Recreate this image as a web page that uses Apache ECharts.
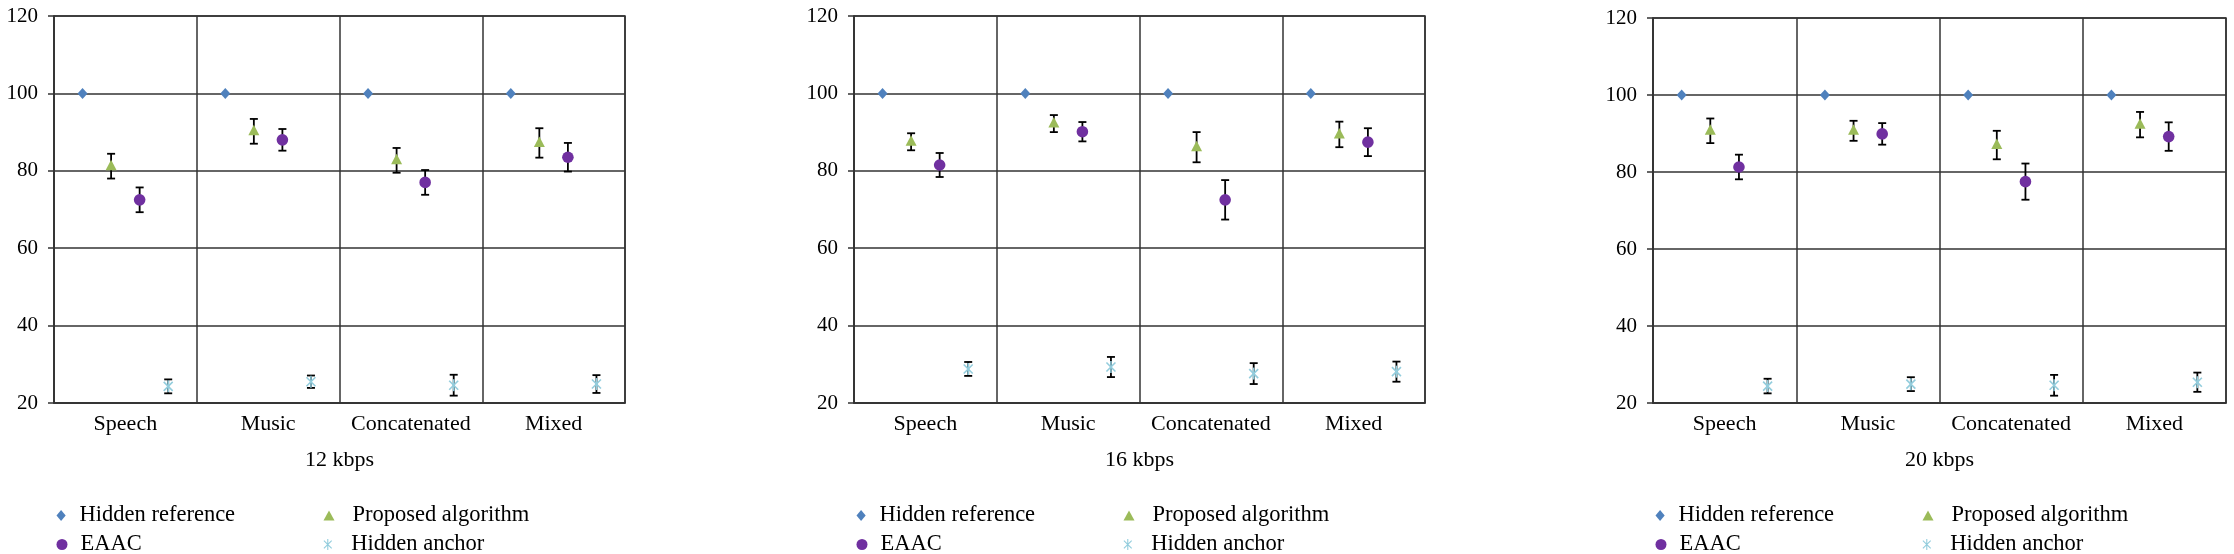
<!DOCTYPE html>
<html><head><meta charset="utf-8">
<script src="https://cdn.jsdelivr.net/npm/echarts@6/dist/echarts.min.js"></script>
<style>html,body{margin:0;padding:0;background:#fff}#c{width:2234px;height:554px}</style>
</head><body><div id="c"></div>
<script>
// ---- data ----
const categories = ['Speech', 'Music', 'Concatenated', 'Mixed'];
const panelTitles = ['12 kbps', '16 kbps', '20 kbps'];
const yMin = 20, yMax = 120, yStep = 20;
const seriesNames = ['Hidden reference', 'Proposed algorithm', 'EAAC', 'Hidden anchor'];

// 12 kbps
const ref12 = [100, 100, 100, 100];
const refErr12 = [0, 0, 0, 0];
const prop12 = [81.2, 90.2, 82.7, 87.2];
const propErr12 = [3.2, 3.2, 3.2, 3.8];
const eaac12 = [72.5, 88.0, 77.0, 83.5];
const eaacErr12 = [3.2, 2.8, 3.2, 3.7];
const anchor12 = [24.3, 25.5, 24.6, 24.9];
const anchorErr12 = [1.8, 1.6, 2.7, 2.3];

// 16 kbps
const ref16 = [100, 100, 100, 100];
const refErr16 = [0, 0, 0, 0];
const prop16 = [87.5, 92.2, 86.1, 89.4];
const propErr16 = [2.2, 2.2, 3.9, 3.3];
const eaac16 = [81.5, 90.1, 72.5, 87.4];
const eaacErr16 = [3.1, 2.5, 5.1, 3.6];
const anchor16 = [28.8, 29.3, 27.6, 28.1];
const anchorErr16 = [1.8, 2.6, 2.7, 2.6];

// 20 kbps
const ref20 = [100, 100, 100, 100];
const refErr20 = [0, 0, 0, 0];
const prop20 = [90.7, 90.7, 87.0, 92.3];
const propErr20 = [3.2, 2.6, 3.7, 3.3];
const eaac20 = [81.3, 89.9, 77.5, 89.2];
const eaacErr20 = [3.2, 2.8, 4.7, 3.7];
const anchor20 = [24.4, 24.9, 24.6, 25.4];
const anchorErr20 = [1.9, 1.8, 2.7, 2.5];

// ---- styling ----
const FONT = "'Liberation Serif', 'DejaVu Serif', serif";
const LINE = '#333333';
const colors = ['#4f81bd', '#9bbb59', '#7030a0', '#93cddd'];
const shapes = ['diamond', 'triangle', 'circle', 'asterisk'];
const legendIcons = {
  diamond: 'path://M5,0 L10,6 L5,12 L0,6 Z',
  triangle: 'path://M5,0 L10,9 L0,9 Z',
  circle: 'circle',
  asterisk: 'path://M9,0 L9,20 L11,20 L11,0 Z M16.36,17.78 L17.78,16.36 L3.64,2.22 L2.22,3.64 Z M3.64,17.78 L17.78,3.64 L16.36,2.22 L2.22,16.36 Z'
};
// legend slot per series: [column, row]
const legendSlots = [[0, 0], [1, 0], [0, 1], [1, 1]];

const panels = [
  { vals: [ref12, prop12, eaac12, anchor12], errs: [refErr12, propErr12, eaacErr12, anchorErr12] },
  { vals: [ref16, prop16, eaac16, anchor16], errs: [refErr16, propErr16, eaacErr16, anchorErr16] },
  { vals: [ref20, prop20, eaac20, anchor20], errs: [refErr20, propErr20, eaacErr20, anchorErr20] }
];
const grids = [
  { left: 54, top: 16, width: 571, height: 387 },
  { left: 854, top: 16, width: 571, height: 387 },
  { left: 1653, top: 18, width: 573, height: 385 }
];

function makeRender(slot, shape, color) {
  return function (params, api) {
    const ci = api.value(0), m = api.value(1), e = api.value(2);
    const band = api.size([1, 0])[0];
    const p = api.coord([ci, m]);
    const x = p[0] + (slot - 1.5) * band / 5;
    const y = p[1];
    const children = [];
    if (e > 0) {
      const yt = api.coord([ci, m + e])[1];
      const yb = api.coord([ci, m - e])[1];
      const ls = { stroke: '#000', lineWidth: 1.8 };
      children.push({ type: 'line', shape: { x1: x, y1: yt, x2: x, y2: yb }, style: ls });
      children.push({ type: 'line', shape: { x1: x - 4, y1: yt, x2: x + 4, y2: yt }, style: ls });
      children.push({ type: 'line', shape: { x1: x - 4, y1: yb, x2: x + 4, y2: yb }, style: ls });
    }
    if (shape === 'diamond') {
      children.push({ type: 'polygon', shape: { points: [[x, y - 5.5], [x + 5, y], [x, y + 5.5], [x - 5, y]] }, style: { fill: color } });
    } else if (shape === 'triangle') {
      children.push({ type: 'polygon', shape: { points: [[x, y - 6.5], [x + 5.5, y + 4], [x - 5.5, y + 4]] }, style: { fill: color } });
    } else if (shape === 'circle') {
      children.push({ type: 'circle', shape: { cx: x, cy: y, r: 5.8 }, style: { fill: color } });
    } else {
      const s = { stroke: color, lineWidth: 1.6 };
      children.push({ type: 'line', shape: { x1: x, y1: y - 6, x2: x, y2: y + 6 }, style: s });
      children.push({ type: 'line', shape: { x1: x - 4.5, y1: y - 4.5, x2: x + 4.5, y2: y + 4.5 }, style: s });
      children.push({ type: 'line', shape: { x1: x - 4.5, y1: y + 4.5, x2: x + 4.5, y2: y - 4.5 }, style: s });
    }
    return { type: 'group', children: children };
  };
}

const option = {
  backgroundColor: '#ffffff',
  animation: false,
  grid: [], xAxis: [], yAxis: [], series: [], legend: []
};

panels.forEach(function (pnl, gi) {
  const g = grids[gi];
  option.grid.push({ left: g.left, top: g.top, width: g.width, height: g.height, show: true, borderColor: LINE, borderWidth: 1.5, backgroundColor: 'transparent' });
  option.xAxis.push({
    type: 'category', gridIndex: gi, data: categories, boundaryGap: true,
    axisLine: { show: true, lineStyle: { color: LINE, width: 1.5 } },
    axisTick: { show: false },
    splitLine: { show: true, interval: 0, lineStyle: { color: LINE, width: 1.5 } },
    axisLabel: { interval: 0, margin: 10, color: '#000', fontFamily: FONT, fontSize: 22 },
    name: panelTitles[gi], nameLocation: 'middle', nameGap: 46,
    nameTextStyle: { color: '#000', fontFamily: FONT, fontSize: 22 }
  });
  option.yAxis.push({
    type: 'value', gridIndex: gi, min: yMin, max: yMax, interval: yStep,
    axisLine: { show: true, lineStyle: { color: LINE, width: 1.5 } },
    axisTick: { show: true, length: 6, lineStyle: { color: LINE, width: 1.5 } },
    splitLine: { show: true, lineStyle: { color: LINE, width: 1.5 } },
    axisLabel: { margin: 16, color: '#000', fontFamily: FONT, fontSize: 21 }
  });
  seriesNames.forEach(function (nm, si) {
    option.series.push({
      type: 'custom', name: nm, xAxisIndex: gi, yAxisIndex: gi,
      itemStyle: { color: colors[si] },
      encode: { x: 0, y: 1 },
      renderItem: makeRender(si, shapes[si], colors[si]),
      data: categories.map(function (c, i) { return [i, pnl.vals[si][i], pnl.errs[si][i]]; })
    });
    const slot = legendSlots[si];
    option.legend.push({
      left: slot[0] === 0 ? g.left + 2.5 : g.left + 269.5,
      top: 504 + slot[1] * 29,
      itemWidth: 11, itemHeight: 11, padding: 0, selectedMode: false,
      symbolKeepAspect: true,
      textStyle: { color: '#000', fontFamily: FONT, fontSize: 22.5, lineHeight: 22,
                   padding: [0, 0, 0, slot[0] === 0 ? 8 : 13] },
      data: [{ name: nm, icon: legendIcons[shapes[si]], itemStyle: { color: colors[si] } }]
    });
  });
});

const chart = echarts.init(document.getElementById('c'), null, { renderer: 'canvas' });
chart.setOption(option);
</script>
</body></html>
